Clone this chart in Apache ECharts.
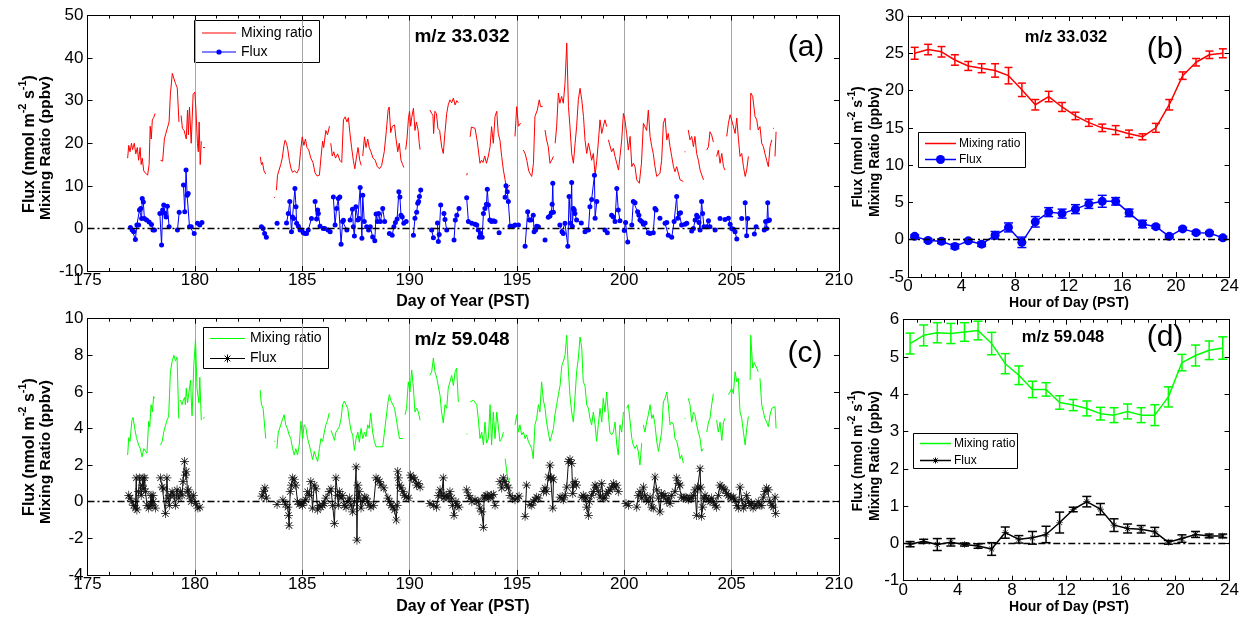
<!DOCTYPE html>
<html>
<head>
<meta charset="utf-8">
<script src="https://cdn.jsdelivr.net/npm/echarts@6/dist/echarts.min.js"></script>
<style>
html, body { margin: 0; padding: 0; background: #fff; }
#chart { width: 1242px; height: 617px; }
</style>
</head>
<body>
<div id="chart"></div>
<script>
const FONT = '"Liberation Sans", Arial, Helvetica, sans-serif';

// ---- m/z 33.032 time series: [day of year, value], null = no data ----
const mixA = [
[176.87,16.5],[176.92,19.5],[176.98,18],[177.05,20],[177.1,18.5],[177.18,20],[177.25,17.5],[177.32,19],[177.38,16],[177.45,19],[177.5,15],[177.55,16.5],[177.62,13.5],[177.7,13],[177.8,12.5],[177.87,15],[177.92,24],[177.97,21],[178.02,25.5],[178.08,26],[178.15,27],null,
[178.4,16],[178.5,15.8],[178.58,21],[178.65,22.3],[178.72,22.5],[178.8,25],[178.86,31.5],[178.95,36.4],[179.02,36.2],[179.1,34],[179.18,33],[179.23,33.3],[179.26,25],null,
[179.36,26.5],[179.42,23.5],[179.5,23],[179.55,22],[179.6,21],[179.66,27.8],[179.7,22],[179.75,28.5],[179.83,20],[179.92,31.5],[180.0,32],[180.05,28],[180.12,20],[180.16,18],[180.2,25],[180.25,15],[180.3,20.5],null,
[180.38,19],[180.47,19],null,
[183.05,16.8],[183.1,15],[183.15,15.5],[183.22,13.5],[183.3,12.8],null,
[183.7,7.2],[183.74,7.4],null,
[183.8,9],[183.85,12.5],[183.92,12.8],[184.0,15],[184.07,16.5],[184.15,19.5],[184.2,20.7],[184.27,20],[184.33,18.5],[184.4,16],[184.48,14],[184.55,13.2],[184.65,13.5],[184.75,13],[184.85,14],[184.92,18],[185.0,21.5],[185.08,19.5],[185.15,21],[185.22,19],[185.3,18.5],[185.4,16.5],[185.5,15.5],[185.6,13],[185.7,12.3],[185.8,12.5],[185.88,17],[185.95,20.5],[186.0,19],[186.1,23],[186.18,22],[186.27,24],null,
[186.33,20],[186.4,17],[186.47,18],[186.55,16.5],[186.65,17.5],[186.75,16],[186.84,15.5],[186.92,25.5],[187.0,26.2],[187.08,25],[187.15,26],[187.22,22.5],[187.3,19],[187.38,16],[187.45,14],[187.52,16.5],[187.6,19],[187.68,16],[187.75,14.8],null,
[187.82,17],[187.9,21.5],[187.97,19],[188.05,21],[188.12,19],[188.2,18],[188.3,16.5],[188.4,16],[188.5,14.5],[188.6,14],[188.7,14.8],[188.82,18],[188.92,23],[189.0,27.8],[189.05,28.5],[189.12,22.5],[189.2,24],[189.3,24.3],[189.37,21],[189.45,18],[189.52,20],[189.6,16],[189.68,15],[189.73,14.3],null,
[189.82,18.5],[189.88,21],[189.95,26],[190.0,27.5],[190.05,24],[190.1,26],[190.18,28.2],[190.25,23],[190.32,25],[190.4,23],[190.45,20],[190.49,18.5],null,
[190.95,27.8],[191.03,27],[191.09,26.5],[191.12,22.3],[191.18,27.5],[191.25,27],[191.32,23.5],[191.4,23],[191.5,19],[191.57,17.6],[191.64,22],[191.73,27],[191.8,29],[191.88,30.2],[191.96,29.5],[192.04,30.6],[192.12,29],[192.2,30],[192.27,29.5],null,
[192.66,12.5],[192.69,13],null,
[192.82,21.5],[192.88,23.8],[192.96,23.5],[193.05,23.5],[193.15,20.5],[193.28,15.3],[193.35,16],[193.42,15.5],[193.5,17],[193.58,15.3],[193.67,17],[193.75,19.2],[193.82,23.9],[193.9,20],[193.98,26.3],[194.06,27.5],[194.13,22.3],[194.21,20.7],[194.29,16.9],[194.37,13.7],[194.45,11.4],[194.52,9],[194.6,9.8],[194.68,10.2],null,
[194.91,21.6],[194.99,28.6],[195.07,24],[195.17,24.7],null,
[195.3,18.4],[195.38,17.6],[195.46,16],[195.55,13.5],[195.61,12.9],[195.69,12.2],[195.77,15.3],[195.84,26.3],[195.95,27.8],[196.04,30.2],[196.1,28.6],[196.2,28.6],null,
[196.31,23.1],[196.38,20.8],[196.46,19.2],[196.54,15.3],[196.62,16],[196.7,16.9],null,
[196.78,20],[196.85,23.9],[196.93,31.8],[197.0,29.4],[197.08,31],[197.16,29.4],[197.24,34.1],[197.32,43.5],[197.4,28.6],[197.47,23.9],[197.55,17.6],[197.63,15.3],[197.71,20],[197.78,23.9],[197.86,30.2],[197.94,32.9],[198.02,30.2],[198.1,26.3],[198.17,20.8],[198.25,17.6],[198.33,20],[198.4,18.4],[198.48,16],[198.56,17.6],[198.64,12.5],[198.72,16],[198.8,20.8],[198.87,25.5],[198.95,22.3],[199.02,23.9],[199.1,25.5],[199.18,23.9],null,
[199.26,20.8],[199.33,20.8],[199.41,18],[199.49,18.8],[199.57,16.9],[199.65,15.3],[199.73,13.7],[199.8,16.9],[199.88,20.8],[199.96,27],[200.03,25.5],[200.11,22.3],[200.19,18.4],[200.27,21.6],[200.35,14.5],[200.42,15.3],[200.5,14.5],[200.58,11.4],[200.7,10.6],[200.8,15.3],[200.89,24.7],[201.04,23],[201.12,27.8],[201.2,21.6],[201.28,19.2],[201.35,17.6],[201.43,14.5],[201.51,12.2],[201.66,12.9],[201.74,16],[201.82,24.7],[201.9,25.9],[201.98,20.8],[202.05,22.3],[202.13,19.2],[202.21,16.9],[202.29,14.5],[202.36,13.3],[202.44,14.5],[202.6,11.4],[202.75,11],null,
[202.81,18],[202.85,18],null,
[202.98,23.1],[203.06,20.8],[203.14,21.6],[203.22,19.2],[203.29,21.6],[203.37,17.6],[203.45,16],[203.53,13.7],[203.69,11.4],null,
[203.84,18.4],[203.92,19.2],[203.99,22.7],[204.07,21.9],[204.15,20.3],null,
[204.3,16.9],[204.38,18.4],[204.46,15.3],[204.54,17.6],[204.62,14.5],[204.69,13.7],null,
[204.77,21.6],[204.85,24.7],[204.93,26.7],[205.0,27],[205.08,24],[205.16,22.3],[205.24,25.9],[205.32,20.8],[205.39,16.9],[205.47,17.6],[205.55,14.5],[205.63,12.2],[205.7,13.7],[205.78,16.9],null,
[205.86,23.1],[205.89,31.8],[205.98,31],[206.09,26.3],[206.17,25.5],[206.24,23.1],[206.32,23.9],[206.4,20],[206.48,19.2],[206.55,17.6],[206.63,16],[206.71,14.5],[206.79,19.2],[206.87,20.8],null,
[206.93,23.5],[206.97,23.5],null,
[207.02,16.9],[207.07,22.7]
];

const fluxA = [
[177.0,0.2],[177.08,-0.4],[177.15,-0.8],[177.23,-2.6],[177.3,0.8],[177.38,0.8],[177.42,4.3],[177.48,4.7],[177.52,2.3],[177.55,7],[177.6,6.2],[177.65,2.3],[177.75,2],[177.87,1.5],[177.98,0.9],[178.05,-0.4],[178.12,-0.4],null,
[178.37,3.5],[178.45,-3.9],[178.5,4.3],[178.55,5.5],[178.62,3.5],[178.66,2.7],[178.72,5.2],[178.8,0.4],null,
[179.19,-0.4],[179.27,3.8],null,
[179.47,10.2],[179.53,3.9],[179.59,13.7],[179.64,7.8],[179.69,8.2],[179.75,0.4],[179.83,0.4],[179.97,-1.2],null,
[180.12,1.2],[180.23,0.8],[180.33,1.4],null,
[183.1,0.4],[183.18,0],[183.25,-1.2],[183.33,-2.1],null,
[183.83,1.2],null,
[184.27,1.3],[184.35,3.5],[184.42,6.3],[184.5,-0.8],[184.55,2.7],[184.6,2.3],[184.66,9.4],[184.71,5.1],[184.74,1.2],[184.82,0.5],[184.9,-0.4],[184.98,-0.4],[185.05,-1],[185.13,-1.2],[185.2,-1.2],[185.28,-0.4],[185.43,2.3],null,
[185.6,6.3],[185.67,2.2],[185.72,4.3],[185.75,3.5],[185.83,0.5],[185.98,0],[186.05,0],[186.2,-0.4],[186.3,-0.8],null,
[186.45,7.4],[186.53,0.8],[186.6,4.7],[186.68,7],[186.75,7.4],[186.81,-3.7],[186.88,1.6],[186.92,1.9],[187.08,-0.4],null,
[187.23,2],[187.34,4.5],[187.38,0.4],[187.43,-1.8],[187.5,5.1],[187.59,2],[187.65,2.3],[187.7,9.6],[187.78,-2.3],[187.82,7.8],[187.89,1.6],null,
[188.0,0.4],[188.09,-0.4],[188.17,0.4],[188.28,-2],[188.38,-2.9],[188.44,3.4],[188.5,1.6],[188.56,3.5],[188.64,1.6],[188.75,4.7],[188.84,1.6],null,
[189.06,-1.2],[189.19,-1.6],[189.27,0.4],[189.34,1.4],[189.42,2.2],[189.5,8.6],[189.55,7.4],[189.6,3.1],[189.66,2.7],[189.73,1.2],[189.84,1.6],null,
[190.18,-1.6],[190.25,2.4],[190.33,3.8],[190.38,5.9],[190.42,6.3],[190.46,7.5],[190.52,9],null,
[191.03,-0.4],[191.11,-2.2],null,
[191.3,1.3],[191.34,-3.1],[191.38,-1.4],[191.45,5.5],null,
[191.6,3.5],[191.65,2.1],[191.73,-0.4],null,
[192.07,-2.7],[192.13,2],[192.2,3.1],[192.3,4.7],null,
[192.66,7.2],[192.74,1.6],[192.9,1.2],[193.05,1],[193.13,0.8],[193.2,-0.4],[193.25,-2.1],[193.31,-1.2],[193.38,-2.1],[193.44,3.5],[193.51,4.7],[193.58,5.7],[193.62,9.2],[193.67,5.5],[193.74,2],[193.82,1.6],[193.9,1.8],[193.98,1.6],null,
[194.17,-1],null,
[194.45,7.3],[194.49,10],[194.55,8.6],[194.6,6.3],[194.68,0.5],[194.76,0.5],[194.83,0.5],[194.91,0.8],[195.07,0.8],null,
[195.38,-4.2],[195.5,3.9],[195.58,2],[195.65,2],[195.76,3.1],[195.8,-0.8],[195.87,-0.4],[195.92,0.5],[196.0,0.4],null,
[196.31,-2.7],null,
[196.46,2.6],[196.54,2.9],[196.6,3.7],[196.64,5.7],[196.67,10.6],[196.7,3.8],null,
[197.0,0.8],[197.1,-0.8],[197.16,-1.2],[197.24,1.2],[197.37,-4.2],[197.43,7.5],[197.5,1.2],[197.55,10.8],[197.58,0.5],[197.63,4.7],[197.67,4.3],[197.7,3.5],[197.78,2],[198.0,1.3],null,
[198.17,-0.8],[198.25,-0.4],[198.33,-0.4],[198.4,5.1],[198.48,6.8],[198.61,12.5],[198.64,2.4],[198.72,6.3],null,
[199.1,-0.4],[199.21,-1],null,
[199.41,3.1],[199.49,2.7],[199.57,1.6],[199.65,9.4],[199.72,4.3],[199.8,1.8],null,
[200.0,-0.5],[200.06,1.4],[200.16,-3.2],null,
[200.35,0.8],[200.42,6.3],[200.5,6],[200.62,3.9],[200.68,3.1],[200.73,2],[200.81,1.6],[200.89,1],[200.97,1.3],[201.12,-1],[201.2,-1.2],[201.35,-1],[201.43,4.7],[201.48,4.3],null,
[201.66,2.4],null,
[201.9,1.2],[201.98,1.4],[202.05,-1.6],[202.21,-2.1],[202.32,1.6],[202.44,7.5],[202.49,2.4],[202.56,3.5],[202.62,3.7],[202.67,0.8],[202.83,1],[202.91,1.2],null,
[203.14,-0.6],[203.22,0],[203.3,2],[203.37,3.1],[203.42,2.7],[203.48,1.4],[203.53,-0.4],[203.6,6.3],[203.65,3.5],[203.71,0.4],[203.84,0.4],[203.92,1.8],[203.99,0.4],null,
[204.23,-0.4],null,
[204.46,2.3],null,
[204.69,2.1],null,
[204.85,2.4],[204.93,1],[205.0,0],[205.08,-0.2],[205.16,-0.8],[205.24,-2.5],null,
[205.47,2.3],null,
[205.63,6],[205.7,-1.7],[205.75,2.3],null,
[206.06,-1.3],[206.14,0.4],null,
[206.52,-0.4],[206.58,1.6],[206.63,0],[206.68,6],[206.71,1.8],[206.76,2]
];

// ---- m/z 59.048 time series ----
const mixC = [
[176.87,2.55],[176.92,3.5],[176.98,3.3],[177.07,4.45],[177.12,4.6],[177.2,4],[177.28,3.5],[177.38,3.1],[177.46,2.9],[177.54,2.45],[177.62,2.9],[177.7,2.8],[177.77,2.65],[177.85,4.4],[177.9,4.1],[177.96,5.3],[178.02,4.9],[178.08,5.75],[178.13,5.65],null,
[178.4,3.1],[178.48,3.3],[178.55,3.8],[178.63,4.15],[178.7,4.45],[178.78,4.65],[178.86,7.1],[178.94,7.65],[179.02,8],[179.1,7.7],[179.17,7.9],[179.25,4.55],null,
[179.33,5.55],[179.4,5.3],[179.45,5.5],[179.52,5.7],[179.56,5.3],[179.6,6.2],[179.66,5.4],[179.7,5.3],[179.8,6.65],[179.84,5.4],[179.87,4.7],[179.95,7.45],[180.03,8.85],[180.1,6.2],[180.19,5.4],[180.23,6.8],[180.3,4.45],null,
[180.38,4.55],[180.45,4.6],null,
[183.04,6.1],[183.1,5.3],[183.18,5.1],[183.22,4.55],[183.3,3.45],null,
[183.7,3.3],[183.75,3.3],null,
[183.82,2.9],[183.88,3.75],[184.0,4.2],[184.08,4.5],[184.16,4.75],[184.23,4.2],[184.31,4.0],[184.39,3.65],[184.47,3.45],[184.55,2.9],[184.63,2.55],[184.7,2.9],[184.78,2.55],[184.86,3.1],[184.94,4.4],[185.02,3.45],[185.09,4.2],[185.17,4.05],[185.25,3.45],[185.33,3.1],[185.4,2.75],[185.48,2.3],[185.56,2.75],[185.64,2.45],[185.72,2.2],[185.8,2.9],[185.87,3.45],[185.95,3.3],[186.03,3.8],[186.1,4.2],[186.18,4.45],[186.26,4.85],null,
[186.34,3.9],[186.42,3.65],[186.5,3.35],[186.57,3.8],[186.65,3.9],[186.73,4.1],[186.81,4.55],[186.88,5.3],[186.96,5.5],[187.04,5.55],[187.12,5.1],[187.2,4.4],[187.28,3.85],[187.35,3.65],[187.43,2.8],[187.51,3.45],[187.59,3.8],[187.66,3.25],[187.74,4.0],[187.82,3.45],[187.9,3.8],[187.97,3.55],[188.05,4.2],[188.12,4.0],[188.19,4.85],[188.28,3.8],[188.36,3.3],[188.44,3.0],[188.6,3.0],[188.75,3.0],[188.83,3.8],[188.99,5.4],[189.06,5.85],[189.14,5.5],[189.22,5.3],[189.3,5.1],[189.38,4.55],[189.45,4.0],[189.53,3.45],[189.61,3.35],[189.69,3.45],null,
[189.79,4.75],[189.86,5.1],[189.94,6.55],[190.02,6.0],[190.1,7.2],[190.18,6.2],[190.25,4.9],[190.33,5.1],[190.41,4.9],[190.49,4.45],null,
[190.95,6.9],[191.03,7.1],[191.11,7.85],[191.18,7.1],[191.26,6.8],[191.34,6.7],[191.42,5.8],[191.49,4.9],[191.57,4.3],[191.65,5.3],[191.73,5.1],[191.8,6.2],[191.88,6.55],[191.96,6.9],[192.04,6.35],[192.12,7.1],[192.19,7.3],[192.27,5.45],null,
[192.65,3.7],[192.69,3.7],null,
[192.82,5.45],[192.9,5.35],[192.97,5.55],[193.05,5.65],[193.13,5.3],[193.2,4.55],[193.28,3.45],[193.36,3.8],[193.44,3.1],[193.51,4.35],[193.59,3.2],[193.67,3.45],[193.75,5.3],[193.82,3.1],[193.9,4.9],[193.98,3.45],[194.06,4.9],[194.14,5.0],[194.21,3.3],[194.29,3.45],[194.37,3.8],null,
[194.45,2.35],[194.49,2.0],[194.55,1.45],[194.6,1.1],[194.68,1.3],null,
[194.91,4.2],[194.99,4.75],[195.07,3.8],[195.14,4.2],[195.22,3.65],[195.3,3.8],[195.38,3.45],[195.45,3.65],[195.53,3.3],[195.61,3.1],[195.69,2.9],[195.76,2.35],[195.84,4.2],[195.92,4.55],[196.0,5.3],[196.07,4.9],[196.15,6.55],[196.23,5.55],[196.31,5.1],[196.38,4.35],[196.46,3.8],[196.54,3.3],[196.62,3.65],[196.7,4.0],[196.77,4.75],[196.85,5.3],[196.93,5.85],[197.01,6.35],[197.09,7.45],[197.16,7.65],[197.24,8.0],[197.32,9.1],[197.4,7.1],[197.47,5.8],[197.55,4.9],[197.63,4.35],[197.71,5.8],[197.78,7.1],[197.86,7.85],[197.94,9.0],[198.02,8.4],[198.09,6.55],[198.17,6.35],[198.25,5.3],[198.33,5.1],[198.4,4.55],[198.48,4.2],[198.56,4.9],[198.64,4.2],[198.71,3.3],[198.79,4.2],[198.87,5.1],[198.95,4.35],[199.02,5.65],[199.1,4.9],[199.18,6.0],[199.26,4.75],[199.33,3.8],[199.41,3.65],[199.49,3.8],[199.57,4.35],[199.65,3.1],[199.72,2.55],[199.8,4.2],[199.88,3.8],[199.96,4.9],null,
[200.11,5.1],[200.19,5.3],[200.27,5.2],[200.35,3.45],[200.42,3.1],[200.5,2.9],[200.58,3.1],[200.65,2.75],[200.73,2.0],[200.81,3.2],null,
[200.89,4.2],[200.96,3.8],[201.04,4.35],[201.12,4.75],[201.2,5.3],[201.28,4.55],[201.35,4.75],[201.43,4.2],[201.51,3.3],[201.59,2.75],[201.66,2.65],[201.74,3.8],[201.82,5.45],[201.9,5.65],[201.98,6.0],[202.05,5.3],[202.13,4.2],[202.21,4.35],[202.29,4.2],[202.36,3.45],[202.44,3.3],[202.52,2.9],[202.6,2.35],[202.67,2.55],[202.75,2.1],null,
[202.81,4.55],[202.85,4.55],null,
[202.98,5.65],[203.06,5.3],[203.14,4.35],[203.22,4.9],[203.29,4.75],[203.37,4.2],[203.45,3.8],[203.53,3.45],[203.6,2.75],[203.68,2.9],null,
[203.84,3.8],[203.92,4.35],[203.99,4.55],[204.07,5.3],[204.15,5.9],null,
[204.3,4.45],[204.38,3.8],[204.46,4.35],[204.54,3.35],[204.62,4.35],[204.69,4.55],null,
[204.85,5.85],[204.93,6.0],[205.0,6.2],[205.08,5.9],[205.16,7.1],[205.24,6.55],[205.31,6.75],[205.39,4.9],[205.47,4.55],[205.55,3.8],[205.63,3.1],[205.7,4.0],[205.78,4.65],null,
[205.86,6.65],[205.89,9.1],[205.98,7.3],[206.05,7.6],[206.09,7.55],[206.17,7.3],[206.24,7.1],null,
[206.32,6.75],[206.4,5.3],[206.48,4.9],[206.55,4.55],[206.63,4.35],[206.71,4.1],[206.79,4.75],[206.87,5.1],[206.94,5.1],[207.02,5.2],[207.07,4.0]
];

const fluxC = [
[176.92,0.35],[176.98,0.2],[177.07,0],[177.15,-0.2],[177.23,-0.35],[177.27,1.3],[177.3,-0.45],[177.38,0.55],[177.43,1.3],[177.5,0.35],[177.55,0.9],[177.59,1.3],[177.62,0.7],[177.66,1.3],[177.7,0.55],[177.77,-0.2],[177.85,-0.35],[177.92,-0.2],[177.96,0.35],[178.0,-0.2],[178.05,0.35],[178.08,0],[178.16,-0.35],null,
[178.4,1.3],[178.48,0.8],[178.55,0.7],[178.63,-0.65],[178.7,1.3],[178.75,0.2],[178.81,-0.2],[178.86,0.35],[178.94,0.55],[179.02,0.35],[179.1,-0.2],[179.17,0.65],[179.25,0.2],[179.33,0.55],[179.4,0.35],[179.45,1.1],[179.52,2.2],[179.56,1.45],[179.6,1.65],[179.66,0.55],[179.7,0.65],[179.75,0.3],[179.83,0],[179.93,0.35],[180.03,-0.1],[180.14,-0.35],[180.23,-0.3],null,
[183.12,0.3],[183.2,0.55],[183.26,0.75],[183.33,0.2],null,
[183.83,-0.15],null,
[184.1,0.1],[184.22,-0.15],[184.33,-0.3],[184.36,-0.75],[184.39,-1.3],[184.44,0.55],[184.5,0.9],[184.55,1.3],[184.63,1.2],[184.7,0.9],[184.78,0],[184.86,-0.15],[184.94,-0.1],[185.02,-0.2],[185.09,0],[185.17,0.1],[185.25,0.55],[185.33,0.35],[185.4,1.1],[185.48,-0.35],[185.56,0.9],[185.64,0.7],[185.72,-0.45],[185.8,-0.2],[185.87,-0.3],[185.95,-0.2],[186.03,-0.1],[186.1,0.2],[186.26,0.55],[186.34,0.7],[186.42,-0.2],[186.5,-1.2],[186.57,1.3],[186.65,0.35],[186.68,-0.2],[186.73,0.55],[186.81,0.2],[186.88,0.35],[186.96,-0.2],[187.04,-0.3],[187.12,0],[187.2,0.2],[187.28,-0.2],[187.35,-0.55],[187.43,0],[187.51,1.9],[187.55,-2.1],[187.59,0.9],[187.62,0.2],[187.66,0.55],[187.74,-0.35],[187.82,0],[187.9,0.25],[187.97,0.2],[188.05,0],[188.12,-0.2],[188.2,-0.3],[188.32,-0.2],[188.44,1.3],[188.52,1.2],[188.6,1.1],[188.67,0.9],[188.8,0.75],[188.99,0.2],[189.06,0],[189.14,-0.2],[189.22,-0.3],[189.3,-0.45],[189.38,-1.0],[189.42,-0.2],[189.45,1.65],[189.48,1.3],[189.53,0.9],[189.61,0.75],[189.69,0.55],[189.76,0.35],[189.84,0.25],[189.95,0.2],[190.05,1.45],[190.1,1.3],[190.18,1.3],[190.25,1.2],[190.33,0.9],[190.41,1.0],[190.49,0.8],null,
[190.95,-0.1],[191.11,-0.2],[191.26,-0.3],[191.34,0.35],[191.42,0.65],[191.49,0.35],[191.57,1.3],[191.6,0.2],[191.65,0.3],[191.73,0.35],[191.8,0.2],[191.88,0.55],[191.96,0.2],[192.0,-0.2],[192.07,-0.75],[192.16,0],[192.22,-0.2],[192.3,-0.3],null,
[192.66,0.65],[192.74,0.35],[192.82,0.2],[192.9,0],[193.05,0.1],[193.13,0],[193.2,0],[193.28,-0.35],[193.36,-0.55],[193.44,-1.4],[193.47,0.2],[193.51,0.25],[193.56,0.35],[193.62,0.35],[193.67,0.2],[193.75,0.25],[193.82,0.35],[193.9,0.4],[193.98,-0.2],null,
[194.21,1.1],[194.29,0.75],[194.37,1.3],[194.44,1.1],[194.52,0.9],[194.6,0.75],[194.68,0.35],[194.8,0.2],[194.91,0.1],[195.02,0.2],[195.1,0.3],null,
[195.38,-0.8],[195.45,0.9],null,
[195.61,-0.15],[195.69,-0.2],[195.76,0],[195.84,0.1],[195.92,0.25],[196.0,0.2],null,
[196.23,0.55],[196.31,0.75],[196.38,0.55],[196.46,1.35],[196.54,2.0],[196.57,1.3],[196.62,1.3],[196.67,-0.35],[196.7,1.2],null,
[197.01,0.25],[197.09,0.2],[197.16,0.1],[197.24,0.35],[197.32,0.8],[197.4,2.2],[197.47,2.3],[197.55,2.1],[197.6,0.45],[197.63,0.9],[197.71,1.1],[197.78,0.9],null,
[198.02,0.25],[198.09,0.35],[198.17,0.25],[198.22,0.2],[198.25,-0.3],[198.33,-0.75],[198.38,0],[198.48,0.35],[198.56,0.55],[198.64,0.9],[198.71,0.8],[198.79,0.55],[198.87,0.25],[198.95,1.0],[199.02,0.2],[199.1,0.2],[199.18,0.45],[199.26,0.55],[199.33,0.65],[199.41,0.8],[199.49,1.0],[199.57,0.8],[199.65,0.9],[199.72,0.55],null,
[200.08,-0.1],[200.19,-0.2],null,
[200.58,-0.3],[200.65,0.35],[200.73,0.55],[200.81,0.2],[200.89,0.8],[200.96,0.35],[201.04,0.1],[201.12,0],[201.2,0.25],[201.28,-0.3],[201.35,-0.35],[201.43,1.35],[201.51,0.65],[201.59,0.2],[201.66,-0.55],[201.74,0.45],[201.82,0.3],[201.9,0.35],[201.98,0],[202.05,0.2],[202.13,-0.1],[202.21,0.35],[202.36,0.55],[202.44,1.3],[202.52,1.0],[202.6,0.9],[202.67,0.25],[202.75,0.2],[202.83,0.25],[202.9,0.2],[202.98,0.1],[203.06,0.2],[203.14,0.2],[203.22,0.35],[203.29,0.65],[203.37,-0.75],[203.42,0.8],[203.48,0.7],[203.53,1.8],[203.56,0.8],[203.6,-0.8],[203.65,-0.3],[203.71,0.2],[203.76,0.35],[203.84,0.2],[203.92,0.1],[203.99,0],[204.07,0.2],[204.15,0],[204.23,-0.2],[204.3,-0.3],[204.38,0.35],[204.46,0.9],[204.54,0.8],[204.62,0.7],[204.69,0.65],[204.77,0.45],[204.85,0.35],[204.93,0.25],[205.0,0.2],[205.08,0.25],[205.16,0.1],[205.24,-0.2],[205.31,-0.35],[205.39,0.8],[205.47,0.1],[205.55,-0.35],[205.63,-0.2],[205.7,0.35],[205.78,0],[205.86,-0.2],[205.93,-0.1],[206.0,-0.35],[206.09,-0.2],[206.17,-0.2],[206.24,0],[206.32,-0.2],[206.4,-0.2],[206.48,0.25],[206.55,0.55],[206.63,0.75],[206.71,0.65],[206.79,0],[206.87,-0.2],[206.94,-0.3],[207.02,0.25],[207.05,-0.65]
];

// ---- diurnal means (hour of day) with error-bar half widths ----
const hours = [0.5,1.5,2.5,3.5,4.5,5.5,6.5,7.5,8.5,9.5,10.5,11.5,12.5,13.5,14.5,15.5,16.5,17.5,18.5,19.5,20.5,21.5,22.5,23.5];
const mixB    = [25.0,25.5,25.2,24.1,23.3,23.0,22.7,22.0,20.1,18.1,19.2,17.8,16.6,15.7,15.0,14.7,14.2,13.8,15.0,18.1,22.0,23.8,24.8,25.0];
const mixBErr = [0.8,0.7,0.7,0.7,0.6,0.6,0.9,1.1,0.9,0.7,0.7,0.6,0.5,0.5,0.5,0.6,0.5,0.4,0.6,0.7,0.5,0.5,0.5,0.6];
const fluxB    = [0.45,-0.1,-0.2,-0.9,-0.15,-0.6,0.6,1.65,-0.35,2.4,3.7,3.5,4.1,4.8,5.15,5.15,3.6,2.1,1.75,0.45,1.45,0.95,0.9,0.25];
const fluxBErr = [0.2,0.2,0.3,0.3,0.2,0.3,0.5,0.6,0.7,0.7,0.6,0.6,0.6,0.6,0.8,0.5,0.5,0.5,0.2,0.2,0.2,0.2,0.2,0.2];
const mixD    = [5.36,5.58,5.65,5.63,5.67,5.71,5.36,4.82,4.51,4.13,4.13,3.78,3.71,3.62,3.48,3.44,3.54,3.44,3.44,3.93,4.85,5.04,5.18,5.24];
const mixDErr = [0.28,0.28,0.27,0.27,0.25,0.25,0.3,0.27,0.25,0.22,0.18,0.18,0.15,0.2,0.17,0.2,0.2,0.2,0.28,0.27,0.22,0.28,0.25,0.3];
const fluxD    = [-0.02,0.06,-0.03,0.03,-0.03,-0.07,-0.15,0.29,0.11,0.15,0.24,0.56,0.91,1.12,0.92,0.49,0.4,0.38,0.31,0.03,0.13,0.24,0.2,0.2];
const fluxDErr = [0.07,0.05,0.16,0.1,0.04,0.06,0.17,0.15,0.1,0.17,0.22,0.28,0.06,0.14,0.15,0.17,0.12,0.1,0.12,0.05,0.1,0.08,0.05,0.05];

// axis tick settings
const dayTicks  = { min: 175, max: 210, interval: 5, minor: 5 };
const hourTicks = { min: 0, max: 24, interval: 4, minor: 4 };
const yTicksA = { min: -10, max: 50, interval: 10 };
const yTicksB = { min: -5, max: 30, interval: 5 };
const yTicksC = { min: -4, max: 10, interval: 2 };
const yTicksD = { min: -1, max: 6, interval: 1 };

const RED = '#ff0000', BLUE = '#0000ff', GREEN = '#00ff00', BLACK = '#000000';
const STAR = 'path://M4.6,0L5.4,0L5.4,10L4.6,10Z M0,4.6L10,4.6L10,5.4L0,5.4Z M1.2,1.8L1.8,1.2L8.8,8.2L8.2,8.8Z M8.2,1.2L8.8,1.8L1.8,8.8L1.2,8.2Z';

const gaps = arr => arr.map(p => (p === null ? [NaN, NaN] : p));
const pairs = (xs, ys) => xs.map((x, i) => [x, ys[i]]);
const triples = (xs, ys, es) => xs.map((x, i) => [x, ys[i], es[i]]);

const grids = [
  { left: 87.5, top: 15.5, width: 751.5, height: 255.5 },
  { left: 908, top: 16, width: 326, height: 261 },
  { left: 87.5, top: 318.7, width: 751.5, height: 256.2 },
  { left: 903.3, top: 319.7, width: 331, height: 261 }
];

function xPair(gi, t, grid) {
  const base = {
    type: 'value', gridIndex: gi, min: t.min, max: t.max, interval: t.interval,
    axisLine: { show: true, onZero: false, lineStyle: { color: BLACK, width: 1 } },
    axisTick: { show: true, inside: true, length: 5, lineStyle: { color: BLACK } },
    minorTick: { show: true, splitNumber: t.minor, length: 3, lineStyle: { color: BLACK } }
  };
  return [
    Object.assign({}, base, {
      position: 'bottom',
      axisLabel: { color: BLACK, fontSize: 17, fontFamily: FONT, margin: 1 },
      splitLine: { show: grid, lineStyle: { color: '#a6a6a6', width: 1 } }
    }),
    Object.assign({}, base, { position: 'top', axisLabel: { show: false }, splitLine: { show: false } })
  ];
}
function yPair(gi, t) {
  const base = {
    type: 'value', gridIndex: gi, min: t.min, max: t.max, interval: t.interval,
    axisLine: { show: true, onZero: false, lineStyle: { color: BLACK, width: 1 } },
    axisTick: { show: true, inside: true, length: 5, lineStyle: { color: BLACK } },
    splitLine: { show: false }
  };
  return [
    Object.assign({}, base, { position: 'left', axisLabel: { color: BLACK, fontSize: 17, fontFamily: FONT, margin: 4 } }),
    Object.assign({}, base, { position: 'right', axisLabel: { show: false } })
  ];
}

const zeroLine = {
  silent: true, symbol: 'none', label: { show: false },
  lineStyle: { type: [7, 3, 2, 3], color: BLACK, width: 1.3 },
  data: [{ yAxis: 0 }]
};

function errorBars(axis, data, color, cap, width) {
  return {
    type: 'custom', xAxisIndex: axis, yAxisIndex: axis, data, silent: true,
    encode: { x: 0, y: 1 },
    renderItem(params, api) {
      const x = api.value(0), y = api.value(1), e = api.value(2);
      const hi = api.coord([x, y + e]), lo = api.coord([x, y - e]);
      const style = { stroke: color, lineWidth: width };
      return {
        type: 'group', children: [
          { type: 'line', shape: { x1: hi[0], y1: hi[1], x2: lo[0], y2: lo[1] }, style },
          { type: 'line', shape: { x1: hi[0] - cap, y1: hi[1], x2: hi[0] + cap, y2: hi[1] }, style },
          { type: 'line', shape: { x1: lo[0] - cap, y1: lo[1], x2: lo[0] + cap, y2: lo[1] }, style }
        ]
      };
    }
  };
}

function lineSeries(axis, data, color, width, symbol, size, extra) {
  return Object.assign({
    type: 'line', xAxisIndex: axis, yAxisIndex: axis, data,
    connectNulls: false, showAllSymbol: true, silent: true,
    symbol: symbol || 'none', symbolSize: size || 0, showSymbol: !!symbol,
    lineStyle: { color, width }, itemStyle: { color, borderWidth: 0 }
  }, extra || {});
}

// ---- text helpers ----
function text(x, y, str, size, weight, align) {
  return {
    type: 'text', x, y, silent: true,
    style: { text: str, fontSize: size, fontWeight: weight || 'normal', fontFamily: FONT, fill: BLACK, align: align || 'center', verticalAlign: 'middle' }
  };
}
const measureCtx = document.createElement('canvas').getContext('2d');
function textWidth(str, size, weight) {
  measureCtx.font = (weight || 'normal') + ' ' + size + 'px ' + FONT;
  return measureCtx.measureText(str).width;
}
// vertical (rotated) title built from pieces; a piece with sup=true is raised
function yTitle(cx, cy, pieces, size) {
  const supSize = Math.round(size * 0.7);
  const parts = pieces.map(p => ({ str: p[0], sup: !!p[1], fs: p[1] ? supSize : size }));
  parts.forEach(p => { p.w = textWidth(p.str, p.fs, 'bold'); });
  const total = parts.reduce((s, p) => s + p.w, 0);
  let y = cy + total / 2;
  return parts.map(p => {
    const el = {
      type: 'text', x: cx - (p.sup ? size * 0.42 : 0), y, rotation: Math.PI / 2, silent: true,
      style: { text: p.str, fontSize: p.fs, fontWeight: 'bold', fontFamily: FONT, fill: BLACK, align: 'left', verticalAlign: 'middle' }
    };
    y -= p.w;
    return el;
  });
}
const FLUX_TITLE = [['Flux (nmol m'], ['-2', true], [' s'], ['-1', true], [')']];
const MIX_TITLE = [['Mixing Ratio (ppbv)']];

function star(cx, cy, r, color) {
  const s = { stroke: color, lineWidth: 1 };
  const d = r * 0.72;
  return [
    { type: 'line', silent: true, shape: { x1: cx - r, y1: cy, x2: cx + r, y2: cy }, style: s },
    { type: 'line', silent: true, shape: { x1: cx, y1: cy - r, x2: cx, y2: cy + r }, style: s },
    { type: 'line', silent: true, shape: { x1: cx - d, y1: cy - d, x2: cx + d, y2: cy + d }, style: s },
    { type: 'line', silent: true, shape: { x1: cx - d, y1: cy + d, x2: cx + d, y2: cy - d }, style: s }
  ];
}
function legendBox(box, lx1, lx2, tx, y1, y2, size, mixColor, fluxColor, marker) {
  const els = [
    { type: 'rect', silent: true, shape: box, style: { fill: '#fff', stroke: BLACK, lineWidth: 1 } },
    { type: 'line', silent: true, shape: { x1: lx1, y1: y1, x2: lx2, y2: y1 }, style: { stroke: mixColor, lineWidth: marker.lw } },
    { type: 'line', silent: true, shape: { x1: lx1, y1: y2, x2: lx2, y2: y2 }, style: { stroke: fluxColor, lineWidth: marker.lw } },
    text(tx, y1, 'Mixing ratio', size, 'normal', 'left'),
    text(tx, y2, 'Flux', size, 'normal', 'left')
  ];
  const cx = (lx1 + lx2) / 2;
  if (marker.type === 'circle') {
    els.push({ type: 'circle', silent: true, shape: { cx, cy: y2, r: marker.r }, style: { fill: fluxColor } });
  } else {
    star(cx, y2, marker.r, fluxColor).forEach(e => els.push(e));
  }
  return els;
}

const xAxes = [].concat(xPair(0, dayTicks, true), xPair(1, hourTicks, false), xPair(2, dayTicks, true), xPair(3, hourTicks, false));
const yAxes = [].concat(yPair(0, yTicksA), yPair(1, yTicksB), yPair(2, yTicksC), yPair(3, yTicksD));
// bottom/left axes of grid g have index 2*g
const AX = g => 2 * g;

const series = [
  lineSeries(AX(0), gaps(mixA), RED, 1),
  lineSeries(AX(0), gaps(fluxA), BLUE, 1, 'circle', 5, { markLine: zeroLine }),

  errorBars(AX(1), triples(hours, mixB, mixBErr), RED, 4, 1.5),
  lineSeries(AX(1), pairs(hours, mixB), RED, 1.5),
  errorBars(AX(1), triples(hours, fluxB, fluxBErr), BLUE, 4.5, 1.5),
  lineSeries(AX(1), pairs(hours, fluxB), BLUE, 1.5, 'circle', 9, { markLine: zeroLine }),

  lineSeries(AX(2), gaps(mixC), GREEN, 1),
  lineSeries(AX(2), gaps(fluxC), '#111', 1, STAR, 9, { markLine: zeroLine }),

  errorBars(AX(3), triples(hours, mixD, mixDErr), GREEN, 4.5, 1.5),
  lineSeries(AX(3), pairs(hours, mixD), GREEN, 1.5),
  errorBars(AX(3), triples(hours, fluxD, fluxDErr), BLACK, 4.5, 1.5),
  lineSeries(AX(3), pairs(hours, fluxD), BLACK, 1.5, STAR, 7, { markLine: zeroLine })
];

const graphic = [].concat(
  // panel titles and letters
  text(462, 37, 'm/z 33.032', 19, 'bold'),
  text(806, 48, '(a)', 30),
  text(1066, 37, 'm/z 33.032', 16.5, 'bold'),
  text(1165, 50, '(b)', 30),
  text(462, 340, 'm/z 59.048', 19, 'bold'),
  text(805, 354, '(c)', 30),
  text(1063, 337, 'm/z 59.048', 16.5, 'bold'),
  text(1165, 338, '(d)', 30),
  // x axis titles
  text(463, 302, 'Day of Year (PST)', 16, 'bold'),
  text(1069, 303, 'Hour of Day (PST)', 14, 'bold'),
  text(463, 607, 'Day of Year (PST)', 16, 'bold'),
  text(1069, 607, 'Hour of Day (PST)', 14, 'bold'),
  // y axis titles (two lines each)
  yTitle(30, 144, FLUX_TITLE, 16),
  yTitle(46, 148, MIX_TITLE, 15.5),
  yTitle(858, 147, FLUX_TITLE, 14),
  yTitle(875, 152, MIX_TITLE, 14),
  yTitle(30, 447, FLUX_TITLE, 16),
  yTitle(46, 452, MIX_TITLE, 15.5),
  yTitle(858, 451, FLUX_TITLE, 14),
  yTitle(875, 456, MIX_TITLE, 14),
  // legends
  legendBox({ x: 194.5, y: 20.5, width: 125, height: 42 }, 202, 236, 241, 33, 52, 14, RED, BLUE, { type: 'circle', r: 2.6, lw: 1 }),
  legendBox({ x: 918.5, y: 132.5, width: 107, height: 35 }, 925, 956, 959, 143.5, 159.5, 12, RED, BLUE, { type: 'circle', r: 4.5, lw: 1.5 }),
  legendBox({ x: 203.5, y: 327.5, width: 125, height: 41 }, 210, 245, 250, 338.5, 358.5, 14, GREEN, BLACK, { type: 'star', r: 4, lw: 1 }),
  legendBox({ x: 913.5, y: 433.5, width: 104, height: 35 }, 920, 951, 954, 443.5, 460.5, 12, GREEN, BLACK, { type: 'star', r: 3, lw: 1.5 })
);

const chart = echarts.init(document.getElementById('chart'), null, { renderer: 'canvas' });
chart.setOption({
  animation: false,
  backgroundColor: '#ffffff',
  textStyle: { fontFamily: FONT },
  grid: grids,
  xAxis: xAxes,
  yAxis: yAxes,
  series,
  graphic
});
</script>
</body>
</html>
